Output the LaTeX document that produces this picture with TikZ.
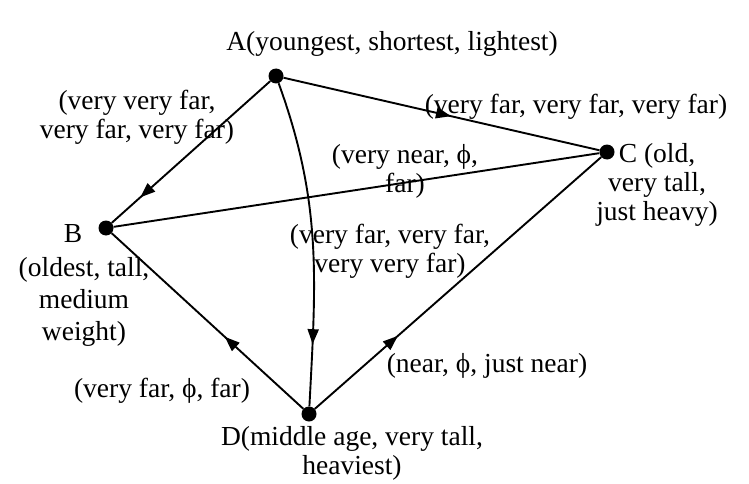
\documentclass[tikz,border=0pt]{standalone}
\usepackage{fontspec}
\setmainfont{Liberation Serif}
\usetikzlibrary{arrows.meta,decorations.markings}
\begin{document}
\begin{tikzpicture}[x=1pt,y=1pt,
  dot/.style={circle,fill=black,inner sep=0pt,minimum size=15pt},
  lbl/.style={align=center,font=\fontsize{27.5}{29}\selectfont,inner sep=0pt},
  lblwide/.style={lbl,font=\fontsize{27.5}{32}\selectfont},
  edge/.style={line width=1.9pt},
  arr/.style={postaction={decorate},decoration={markings,mark=at position #1 with {\arrow{Triangle[length=15pt,width=11pt]}}}}]
\useasboundingbox (0,0) rectangle (749,483);
\node[dot] (A) at (276,407) {};
\node[dot] (B) at (106,255) {};
\node[dot] (C) at (607,331) {};
\node[dot] (D) at (309,69) {};
\draw[edge,arr=0.82] (A) -- (B);
\draw[edge,arr=0.53] (A) -- (C);
\draw[edge] (B) -- (C);
\draw[edge,arr=0.81] (A) to[out=-70,in=87] (D);
\draw[edge,arr=0.41] (D) -- (B);
\draw[edge,arr=0.29] (D) -- (C);
\node[lbl] (la) at (392,439) {A(youngest, shortest, lightest)};
\node[lbl] (lab) at (137,366) {(very very far,\\very far, very far)};
\node[lbl] (lac) at (576,376) {(very far, very far, very far)};
\node[lbl] (lbc) at (405,312) {(very near, ϕ,\\far)};
\node[lbl] (lc) at (657,298) {C (old,\\very tall,\\just heavy)};
\node[lbl] (lbn) at (73,249) {B};
\node[lblwide] (lb) at (84,181) {(oldest, tall,\\medium\\weight)};
\node[lbl] (lad) at (390,232) {(very far, very far,\\very very far)};
\node[lbl] (ldb) at (162,92) {(very far, ϕ, far)};
\node[lbl] (ldc) at (487,117) {(near, ϕ, just near)};
\node[lbl] (ld) at (352,30) {D(middle age, very tall,\\heaviest)};
\end{tikzpicture}
\end{document}
